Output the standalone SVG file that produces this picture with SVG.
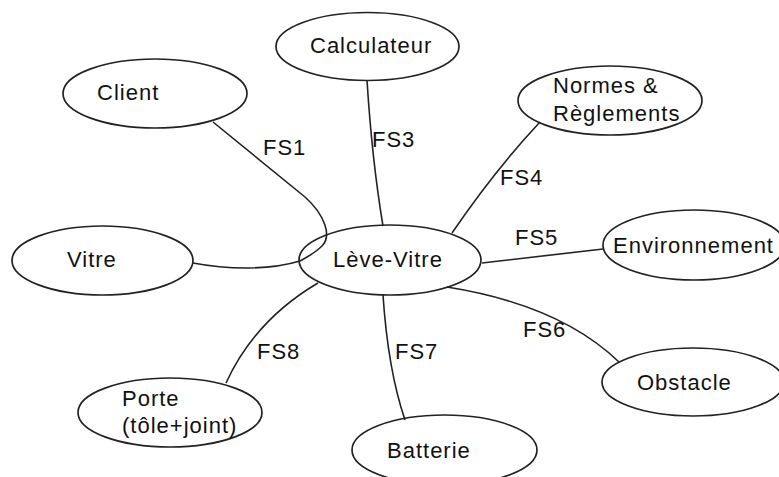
<svg xmlns="http://www.w3.org/2000/svg" width="779" height="477" viewBox="0 0 779 477">
  <style>
    .node ellipse { fill: none; stroke: #222; stroke-width: 1.7; }
    .node text, .lbl { font-family: "Liberation Sans", Arial, sans-serif; font-size: 22px; letter-spacing: 1px; fill: #111; }
    .edge { fill: none; stroke: #222; stroke-width: 1.6; }
  </style>
  <rect width="779" height="477" fill="#fff"/>

  <!-- connectors from the central function to each surrounding element -->
  <g id="connectors">
    <path class="edge" d="M213,122 L305,197 C325,215 332,236 322,246 C314,254 305,258 300,261"/>
    <path class="edge" d="M193,263 C230,270 270,270 300,261"/>
    <path class="edge" d="M367,80 Q372,160 383,226"/>
    <path class="edge" d="M540,122 Q495,170 452,233"/>
    <path class="edge" d="M482,263 L603,249"/>
    <path class="edge" d="M447,287 Q560,305 619,362"/>
    <path class="edge" d="M383,295 Q388,370 405,420"/>
    <path class="edge" d="M318,283 Q255,320 226,383"/>
    <text class="lbl" x="263" y="155">FS1</text>
    <text class="lbl" x="372" y="147">FS3</text>
    <text class="lbl" x="500" y="185">FS4</text>
    <text class="lbl" x="515" y="245">FS5</text>
    <text class="lbl" x="523" y="337">FS6</text>
    <text class="lbl" x="395" y="359">FS7</text>
    <text class="lbl" x="257" y="359">FS8</text>
  </g>

  <g id="calculateur" class="node">
    <ellipse cx="367.5" cy="46.5" rx="91.5" ry="34"/>
    <text x="310" y="53">Calculateur</text>
  </g>
  <g id="client" class="node">
    <ellipse cx="155" cy="93.5" rx="92" ry="34.5"/>
    <text x="97" y="100">Client</text>
  </g>
  <g id="normes" class="node">
    <ellipse cx="610" cy="100.5" rx="92" ry="34.5"/>
    <text x="553" y="93">Normes &amp;</text>
    <text x="553" y="121">Règlements</text>
  </g>
  <g id="vitre" class="node">
    <ellipse cx="102.5" cy="260.5" rx="90.5" ry="34.5"/>
    <text x="67" y="267">Vitre</text>
  </g>
  <g id="leve-vitre" class="node">
    <ellipse cx="390" cy="260" rx="91" ry="35"/>
    <text x="333" y="267">Lève-Vitre</text>
  </g>
  <g id="environnement" class="node">
    <ellipse cx="694" cy="245" rx="91" ry="35"/>
    <text x="613" y="253">Environnement</text>
  </g>
  <g id="obstacle" class="node">
    <ellipse cx="693" cy="382" rx="91" ry="34"/>
    <text x="637" y="390">Obstacle</text>
  </g>
  <g id="porte" class="node">
    <ellipse cx="170" cy="412.5" rx="92" ry="34.5"/>
    <text x="122" y="406">Porte</text>
    <text x="122" y="433">(tôle+joint)</text>
  </g>
  <g id="batterie" class="node">
    <ellipse cx="444.5" cy="450" rx="92.5" ry="35"/>
    <text x="387" y="458">Batterie</text>
  </g>
</svg>
